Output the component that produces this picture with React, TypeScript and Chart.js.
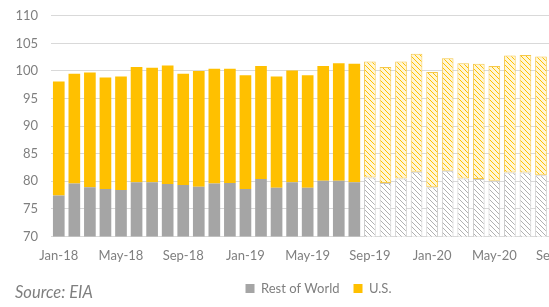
import React, { useEffect, useRef } from "react";
import { Chart, registerables } from "chart.js";

Chart.register(...registerables);

const months = [
  "Jan-18", "Feb-18", "Mar-18", "Apr-18", "May-18", "Jun-18", "Jul-18", "Aug-18", "Sep-18", "Oct-18", "Nov-18", "Dec-18",
  "Jan-19", "Feb-19", "Mar-19", "Apr-19", "May-19", "Jun-19", "Jul-19", "Aug-19", "Sep-19", "Oct-19", "Nov-19", "Dec-19",
  "Jan-20", "Feb-20", "Mar-20", "Apr-20", "May-20", "Jun-20", "Jul-20", "Aug-20", "Sep-20", "Oct-20", "Nov-20", "Dec-20",
];

// mb/d (bars after Aug-20 are outside the visible frame)
const restOfWorld = [
  77.4, 79.6, 78.9, 78.6, 78.4, 79.8, 79.8, 79.5, 79.3, 79.0, 79.6, 79.7,
  78.6, 80.4, 78.8, 79.8, 78.8, 80.1, 80.1, 79.8, 80.7, 79.7, 80.5, 81.7,
  78.9, 81.9, 80.5, 80.4, 80.1, 81.6, 81.6, 81.1, null, null, null, null,
];
const usDemand = [
  20.7, 19.9, 20.8, 20.2, 20.6, 20.9, 20.8, 21.5, 20.2, 21.0, 20.8, 20.7,
  20.6, 20.5, 20.2, 20.3, 20.4, 20.8, 21.3, 21.5, 21.0, 21.0, 21.2, 21.4,
  20.9, 20.4, 20.9, 20.9, 20.8, 21.2, 21.3, 21.5, null, null, null, null,
];
const forecastFrom = "Sep-19";
const yMin = 70;
const yMax = 110;
const yStep = 5;
const labelEvery = 4;

const GRAY = "#A5A5A5";
const GOLD = "#FFC000";
const FONT = "Lato";

function makeHatch(bg: string, line: string): CanvasPattern | string {
  const s = 5;
  const c = document.createElement("canvas");
  c.width = s;
  c.height = s;
  const ctx = c.getContext("2d");
  if (!ctx) return bg;
  ctx.fillStyle = bg;
  ctx.fillRect(0, 0, s, s);
  ctx.strokeStyle = line;
  ctx.lineWidth = 1;
  ctx.beginPath();
  for (const k of [-s, 0, s]) {
    ctx.moveTo(k, 0);
    ctx.lineTo(k + s, s);
  }
  ctx.stroke();
  const p = ctx.createPattern(c, "repeat");
  return p || bg;
}

// the source chart's legend is centred on the full (cropped) figure, slightly right of the plot centre
const legendShift = {
  id: "legendShift",
  afterLayout(chart: any) {
    const lg = chart.legend;
    if (lg) {
      lg.left += 13;
      lg.right += 13;
    }
  },
};

export default function App() {
  const ref = useRef<HTMLCanvasElement | null>(null);

  useEffect(() => {
    if (!ref.current) return;
    const fc = months.indexOf(forecastFrom);
    const grayHatch = makeHatch("#FFFFFF", "#B0B0B0");
    const goldHatch = makeHatch("#FFF6D6", "#FFC000");

    const chart = new Chart(ref.current, {
      type: "bar",
      data: {
        labels: months,
        datasets: [
          {
            label: "Rest of World",
            data: restOfWorld,
            backgroundColor: months.map((_, i) => (i >= fc ? grayHatch : GRAY)) as any,
            borderColor: months.map((_, i) => (i >= fc ? "#C8C8C8" : GRAY)),
            borderWidth: months.map((_, i) => (i >= fc ? 1 : 0)),
            borderSkipped: false,
            barPercentage: 0.75,
            categoryPercentage: 1,
          },
          {
            label: "U.S.",
            data: usDemand,
            backgroundColor: months.map((_, i) => (i >= fc ? goldHatch : GOLD)) as any,
            borderColor: months.map((_, i) => (i >= fc ? "#F5C84A" : GOLD)),
            borderWidth: months.map((_, i) => (i >= fc ? 1 : 0)),
            borderSkipped: false,
            barPercentage: 0.75,
            categoryPercentage: 1,
          },
        ],
      },
      plugins: [legendShift],
      options: {
        responsive: false,
        animation: false,
        layout: { padding: { top: 0, left: 0, right: 25, bottom: 0 } },
        plugins: {
          legend: {
            position: "bottom",
            labels: {
              boxWidth: 9,
              boxHeight: 9,
              padding: 14,
              color: "#7F7F7F",
              font: { family: FONT, size: 13 },
              generateLabels: (ch: any) =>
                ch.data.datasets.map((ds: any, i: number) => ({
                  text: ds.label,
                  fillStyle: i === 0 ? GRAY : GOLD,
                  strokeStyle: i === 0 ? GRAY : GOLD,
                  lineWidth: 0,
                  fontColor: "#7F7F7F",
                  hidden: false,
                  datasetIndex: i,
                })),
            },
          },
          tooltip: { enabled: false },
          title: { display: false },
        },
        scales: {
          x: {
            stacked: true,
            grid: { display: false },
            border: { display: false },
            ticks: {
              autoSkip: false,
              maxRotation: 0,
              padding: 4,
              color: "#7F7F7F",
              font: { family: FONT, size: 13 },
              callback: (_v: any, i: number) => (i % labelEvery === 0 ? months[i] : ""),
            },
          },
          y: {
            stacked: true,
            min: yMin,
            max: yMax,
            grid: { color: "#D9D9D9", lineWidth: 1, drawTicks: false },
            border: { display: false },
            ticks: {
              stepSize: yStep,
              padding: 13,
              color: "#7F7F7F",
              font: { family: FONT, size: 13 },
            },
            afterFit: (s: any) => {
              s.width = 51;
            },
          },
        },
      },
    });
    return () => chart.destroy();
  }, []);

  return (
    <div
      style={{
        position: "fixed",
        left: 0,
        top: 0,
        width: 549,
        height: 307,
        overflow: "hidden",
        background: "#FFFFFF",
      }}
    >
      <canvas
        ref={ref}
        width={636}
        height={310}
        style={{ display: "block", width: 636, height: 310, marginTop: -5 }}
      />
      <span
        style={{
          position: "absolute",
          left: 15,
          top: 282,
          fontFamily: FONT,
          fontStyle: "italic",
          fontSize: 16.5,
          color: "#7F7F7F",
          whiteSpace: "nowrap",
        }}
      >
        Source: EIA
      </span>
    </div>
  );
}
